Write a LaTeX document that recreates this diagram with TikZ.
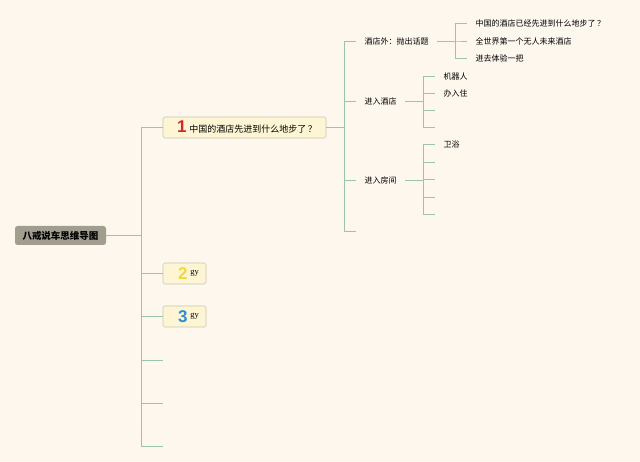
\documentclass[tikz,border=0pt]{standalone}
\usepackage{fontspec}
\newfontfamily\cjk{Noto Sans CJK SC}
\newfontfamily\digitfont{Liberation Sans}
\newfontfamily\smallserif{Liberation Serif}
\definecolor{bgc}{HTML}{FDF7EE}
\definecolor{linec}{HTML}{9CC5A8}
\definecolor{rootfill}{HTML}{A19E8F}
\definecolor{boxfill}{HTML}{FDF5D3}
\definecolor{boxdraw}{HTML}{C6C8AC}
\definecolor{numred}{HTML}{D8232E}
\definecolor{numyellow}{HTML}{F2D83A}
\definecolor{numblue}{HTML}{2B8ED2}
\newcommand{\bignum}[2]{{\digitfont\bfseries\fontsize{17}{17}\selectfont\textcolor{#1}{#2}}}
\newcommand{\gytext}{\raisebox{5pt}{\smallserif\fontsize{8.5}{8.5}\selectfont gy}}
\tikzset{
  conn/.style={draw=linec, line width=0.7pt},
  rootbox/.style={fill=rootfill, rounded corners=2.5pt, minimum width=91pt, minimum height=19pt,
    inner sep=0pt, font=\cjk\bfseries\fontsize{9.5}{9.5}\selectfont},
  topicbox/.style={draw=boxdraw, fill=boxfill, rounded corners=1.5pt, line width=0.6pt,
    inner xsep=0pt, inner ysep=0pt, minimum height=21pt, align=left,
    font=\cjk\fontsize{9}{9}\selectfont},
  subtopic/.style={anchor=west, inner xsep=8.5pt, inner ysep=2pt,
    font=\cjk\fontsize{8}{8}\selectfont},
}
\begin{document}
\begin{tikzpicture}[x=1pt,y=-1pt]
\fill[bgc] (0,0) rectangle (640,462);
\useasboundingbox (0,0) rectangle (640,462);

% root
\node[rootbox] (root) at (60.5,235.5) {八戒说车思维导图};

% junction x-positions
\coordinate (J1) at (141,0);
\coordinate (J2) at (344,0);
\coordinate (J3) at (455.5,0);
\coordinate (J4) at (423,0);
\coordinate (J5) at (423,0);

% level 1
\node[topicbox, text width=163pt] (t1) at (244.5,127.5) {\hspace*{14pt}\bignum{numred}{1}\hspace{3pt}中国的酒店先进到什么地步了\hspace{1.5pt}？};
\node[topicbox, text width=43pt] (t2) at (184.5,273.5) {\hspace*{15pt}\bignum{numyellow}{2}\hspace{3pt}\gytext};
\node[topicbox, text width=43pt] (t3) at (184.5,316.5) {\hspace*{15pt}\bignum{numblue}{3}\hspace{3pt}\gytext};
\coordinate (e1) at (163,360);
\coordinate (e2) at (163,403);
\coordinate (e3) at (163,446.5);

\foreach \n in {t1,t2,t3}
  \draw[conn] (root.east) -- (root.east -| J1) |- (\n.west);
\foreach \n in {e1,e2,e3}
  \draw[conn] (root.east) -- (root.east -| J1) |- (\n);

% level 2
\node[subtopic] (s1) at (356,41) {酒店外：抛出话题};
\node[subtopic] (s2) at (356,101.5) {进入酒店};
\node[subtopic] (s3) at (356,180) {进入房间};
\coordinate (e4) at (356,231);

\foreach \n in {s1,s2,s3}
  \draw[conn] (t1.east) -- (t1.east -| J2) |- (\n.west);
\draw[conn] (t1.east) -- (t1.east -| J2) |- (e4);

% level 3 under s1
\node[subtopic] (a1) at (467,23) {中国的酒店已经先进到什么地步了\hspace{1.5pt}？};
\node[subtopic] (a2) at (467,41) {全世界第一个无人未来酒店};
\node[subtopic] (a3) at (467,58) {进去体验一把};
\foreach \n in {a1,a2,a3}
  \draw[conn] (s1.east) -- (s1.east -| J3) |- (\n.west);

% level 3 under s2
\node[subtopic] (b1) at (435,76) {机器人};
\node[subtopic] (b2) at (435,93) {办入住};
\coordinate (b3) at (435,110);
\coordinate (b4) at (435,127);
\foreach \n in {b1,b2}
  \draw[conn] (s2.east) -- (s2.east -| J4) |- (\n.west);
\foreach \n in {b3,b4}
  \draw[conn] (s2.east) -- (s2.east -| J4) |- (\n);

% level 3 under s3
\node[subtopic] (c1) at (435,144.5) {卫浴};
\coordinate (c2) at (435,162);
\coordinate (c3) at (435,179.5);
\coordinate (c4) at (435,197);
\coordinate (c5) at (435,214);
\draw[conn] (s3.east) -- (s3.east -| J5) |- (c1.west);
\foreach \n in {c2,c3,c4,c5}
  \draw[conn] (s3.east) -- (s3.east -| J5) |- (\n);
\end{tikzpicture}
\end{document}
